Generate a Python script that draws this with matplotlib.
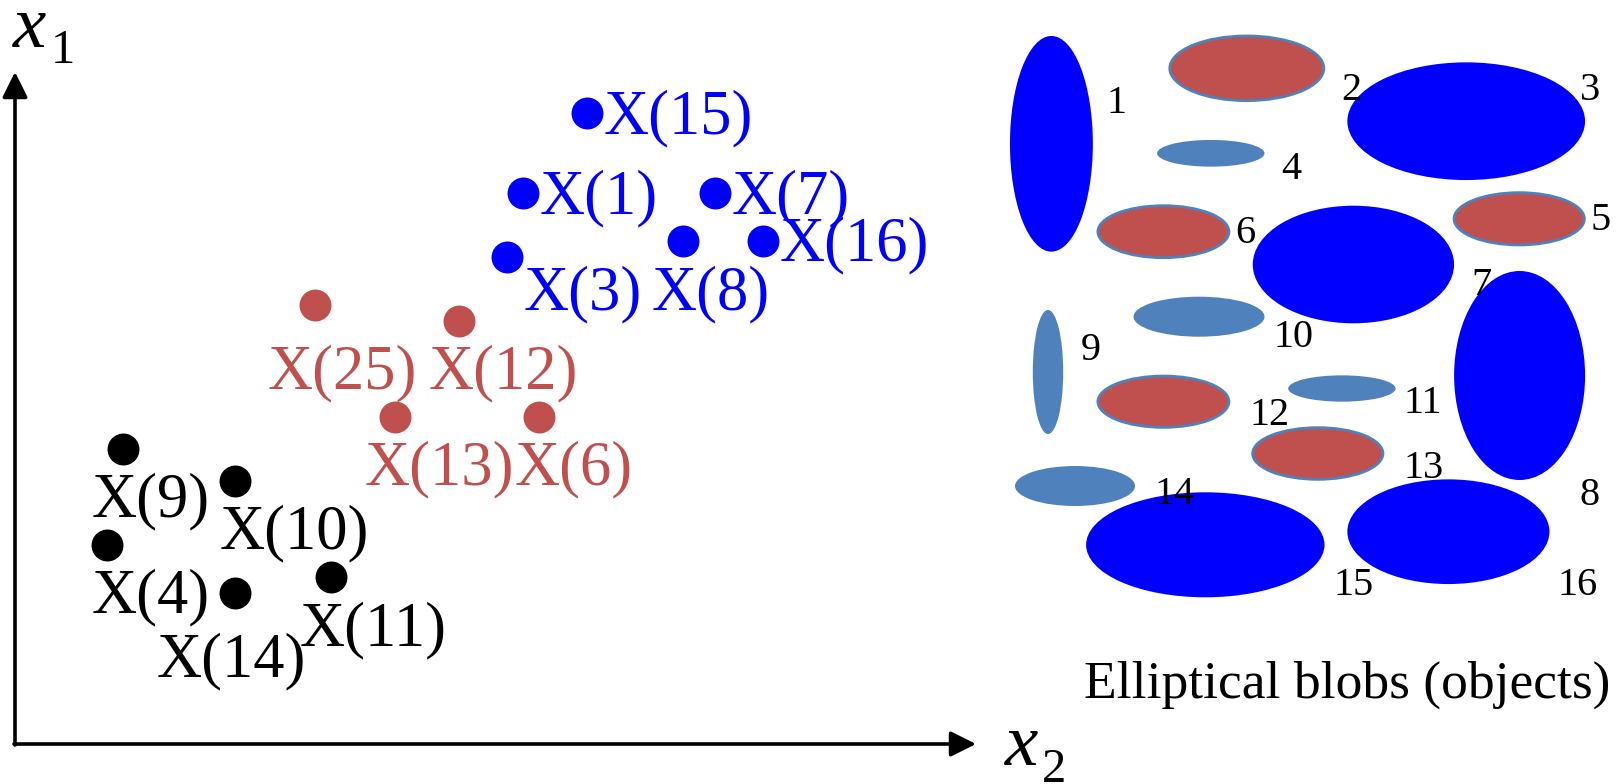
import matplotlib
matplotlib.use("Agg")
import matplotlib.pyplot as plt
from matplotlib.patches import Ellipse, FancyArrowPatch

# ---- feature-space points (diagram pixel coordinates: x to the right, y downward) ----
blue_ids = [15, 1, 7, 8, 16, 3]
blue_x = [586.7, 522.7, 715.0, 682.7, 762.7, 506.7]
blue_y = [112.7, 192.7, 192.7, 240.7, 240.7, 256.7]

red_ids = [25, 12, 13, 6]
red_x = [315.0, 459.0, 395.0, 539.0]
red_y = [305.0, 320.7, 416.7, 416.7]

black_ids = [9, 10, 4, 14, 11]
black_x = [122.7, 234.7, 106.7, 234.7, 330.7]
black_y = [449.0, 481.0, 544.7, 592.7, 576.7]

# ---- elliptical blobs: id, centre x, centre y, width, height, kind ----
blob_ids = [1, 2, 3, 4, 5, 6, 7, 8, 9, 10, 11, 12, 13, 14, 15, 16]
blob_cx = [1051.4, 1246.8, 1466.2, 1210.8, 1519.2, 1163.4, 1353.4, 1519.6,
           1048.0, 1199.0, 1341.9, 1163.4, 1317.8, 1075.0, 1205.3, 1448.4]
blob_cy = [143.8, 68.3, 121.2, 153.3, 218.8, 231.7, 264.5, 375.5,
           372.0, 316.7, 388.5, 401.7, 453.5, 486.0, 544.8, 531.7]
blob_w = [82.9, 154.0, 237.7, 107.4, 130.3, 131.0, 201.3, 131.0,
          30.4, 131.0, 107.4, 131.0, 130.3, 120.0, 238.4, 202.1]
blob_h = [215.7, 64.7, 117.7, 26.7, 52.3, 52.0, 117.6, 209.0,
          124.0, 40.0, 26.3, 51.3, 51.7, 40.0, 105.0, 104.7]
blob_kind = ["big", "red", "big", "small", "red", "red", "big", "big",
             "small", "small", "small", "red", "red", "small", "big", "big"]

# number label anchors (left, baseline) next to each blob
blob_lx = [1106.6, 1341.5, 1579.5, 1281.1, 1591.0, 1234.9, 1471.7, 1579.5,
           1080.9, 1273.2, 1403.5, 1249.5, 1403.5, 1154.7, 1333.6, 1557.4]
blob_ly = [113.3, 100.0, 100.0, 179.3, 230.0, 243.3, 295.0, 505.0,
           360.0, 347.3, 412.7, 425.0, 478.3, 504.3, 595.0, 595.0]

# point label anchors (left, baseline)
blue_lx = [604.0, 540.0, 731.7, 651.7, 780.0, 524.0]
blue_ly = [133.3, 213.3, 213.3, 309.3, 260.7, 309.3]
red_lx = [267.3, 428.3, 365.0, 515.0]
red_ly = [388.3, 388.3, 484.0, 484.0]
black_lx = [91.7, 220.0, 91.7, 156.7, 300.0]
black_ly = [516.7, 548.3, 612.7, 676.7, 645.0]

BLUE = "#0000FF"
RED = "#C0504D"
STEEL = "#4F81BD"
SERIF = ["Liberation Serif", "DejaVu Serif"]

W, H = 1619, 784
fig = plt.figure(figsize=(W / 100, H / 100), dpi=100)
ax = fig.add_axes([0, 0, 1, 1])
ax.set_xlim(0, W)
ax.set_ylim(H, 0)
ax.axis("off")

# axes arrows
ox, oy = 15, 744
ax.add_patch(FancyArrowPatch((ox, oy + 1), (ox, 72), arrowstyle="-|>,head_length=1.1,head_width=0.55",
                             mutation_scale=14, lw=2.6, color="black", shrinkA=0, shrinkB=0))
ax.add_patch(FancyArrowPatch((ox - 1, oy), (976, oy), arrowstyle="-|>,head_length=1.1,head_width=0.55",
                             mutation_scale=14, lw=2.6, color="black", shrinkA=0, shrinkB=0))

# axis labels
ax.text(13, 47, "x", fontsize=54, family=SERIF, style="italic", ha="left", va="baseline")
ax.text(51, 63, "1", fontsize=35, family=SERIF, ha="left", va="baseline")
ax.text(1005, 765, "x", fontsize=54, family=SERIF, style="italic", ha="left", va="baseline")
ax.text(1042, 782, "2", fontsize=35, family=SERIF, ha="left", va="baseline")

# clusters
LABEL_FS = 45
for xs, ys, ids, lxs, lys, col in [
    (blue_x, blue_y, blue_ids, blue_lx, blue_ly, BLUE),
    (red_x, red_y, red_ids, red_lx, red_ly, RED),
    (black_x, black_y, black_ids, black_lx, black_ly, "black"),
]:
    ax.plot(xs, ys, "o", ms=23, color=col, mec="none", zorder=3)
    for i, lx, ly in zip(ids, lxs, lys):
        ax.text(lx, ly, f"X({i})", fontsize=LABEL_FS, family=SERIF, color=col,
                ha="left", va="baseline", zorder=4)

# blobs
styles = {
    "big": dict(facecolor=BLUE, edgecolor="none"),
    "small": dict(facecolor=STEEL, edgecolor="none"),
    "red": dict(facecolor=RED, edgecolor=STEEL, linewidth=2.0),
}
for cx, cy, w, h, k in zip(blob_cx, blob_cy, blob_w, blob_h, blob_kind):
    ax.add_patch(Ellipse((cx, cy), w, h, **styles[k], zorder=2))
for n, lx, ly in zip(blob_ids, blob_lx, blob_ly):
    ax.text(lx, ly, str(n), fontsize=29, family=SERIF, ha="left", va="baseline", zorder=5)

ax.text(1084, 698, "Elliptical blobs (objects)", fontsize=38.5, family=SERIF,
        ha="left", va="baseline")

fig.savefig("out.png", dpi=100)
